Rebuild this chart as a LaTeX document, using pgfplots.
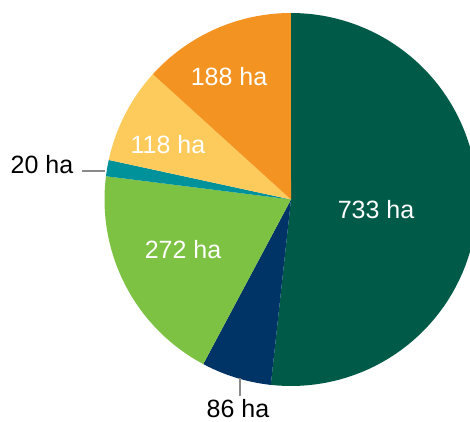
\documentclass[border=0pt]{standalone}
\usepackage{pgfplots}
\pgfplotsset{compat=1.18}
\usepackage{fontspec}
\setmainfont{Liberation Sans}
\definecolor{cA}{HTML}{005A48}
\definecolor{cB}{HTML}{003366}
\definecolor{cC}{HTML}{7DC243}
\definecolor{cD}{HTML}{00929A}
\definecolor{cE}{HTML}{FDCB5B}
\definecolor{cF}{HTML}{F39322}
\definecolor{lineg}{HTML}{8A8A8A}
% data (ha)
\def\vA{733}\def\vB{86}\def\vC{272}\def\vD{20}\def\vE{118}\def\vF{188}
\pgfmathsetmacro\tot{\vA+\vB+\vC+\vD+\vE+\vF}
\pgfmathsetmacro\aA{90}
\pgfmathsetmacro\aB{\aA-360*(\vA/\tot)}
\pgfmathsetmacro\aC{\aB-360*(\vB/\tot)}
\pgfmathsetmacro\aD{\aC-360*(\vC/\tot)}
\pgfmathsetmacro\aE{\aD-360*(\vD/\tot)}
\pgfmathsetmacro\aF{\aE-360*(\vE/\tot)}
\pgfmathsetmacro\aG{\aF-360*(\vF/\tot)}
\def\cx{291}\def\cy{221.5}\def\R{186.5}
\begin{document}
\begin{tikzpicture}
\clip (0,0) rectangle (470pt,421pt);
\begin{axis}[
  anchor=origin, at={(0,0)},
  x=1pt, y=1pt, xmin=0, xmax=470, ymin=0, ymax=421,
  axis lines=none, clip=true,
  samples=80, variable=\t,
  every axis plot/.append style={draw=none},
]
\addplot[fill=cA, domain=\aB:\aA] ({\cx+\R*cos(\t)},{\cy+\R*sin(\t)}) -- (axis cs:\cx,\cy) -- cycle;
\addplot[fill=cB, domain=\aC:\aB] ({\cx+\R*cos(\t)},{\cy+\R*sin(\t)}) -- (axis cs:\cx,\cy) -- cycle;
\addplot[fill=cC, domain=\aD:\aC] ({\cx+\R*cos(\t)},{\cy+\R*sin(\t)}) -- (axis cs:\cx,\cy) -- cycle;
\addplot[fill=cD, domain=\aE:\aD] ({\cx+\R*cos(\t)},{\cy+\R*sin(\t)}) -- (axis cs:\cx,\cy) -- cycle;
\addplot[fill=cE, domain=\aF:\aE] ({\cx+\R*cos(\t)},{\cy+\R*sin(\t)}) -- (axis cs:\cx,\cy) -- cycle;
\addplot[fill=cF, domain=\aG:\aF] ({\cx+\R*cos(\t)},{\cy+\R*sin(\t)}) -- (axis cs:\cx,\cy) -- cycle;
\draw[lineg, line width=2.6pt] (axis cs:82,250) -- (axis cs:105,250);
\draw[lineg, line width=2.6pt] (axis cs:240,43) -- (axis cs:240,25);
\begin{scope}[every node/.style={font=\fontsize{25}{29}\selectfont, inner sep=0pt}]
\node[white] at (axis cs:376,211) {733 ha};
\node[white] at (axis cs:183,171) {272 ha};
\node[white] at (axis cs:168,276) {118 ha};
\node[white] at (axis cs:229,344) {188 ha};
\node[black] at (axis cs:42,256) {20 ha};
\node[black] at (axis cs:238,12.5) {86 ha};
\end{scope}
\end{axis}
\end{tikzpicture}
\end{document}
